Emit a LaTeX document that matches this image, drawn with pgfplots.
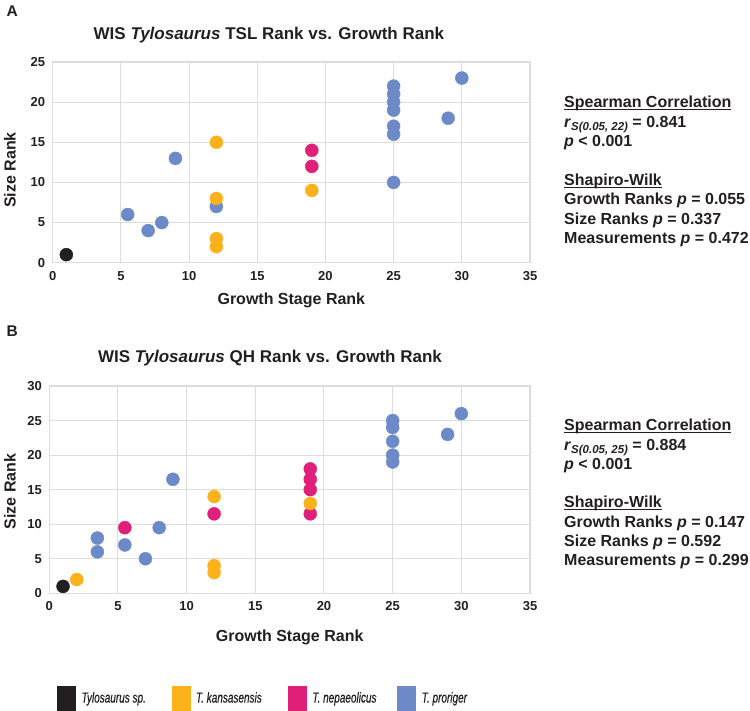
\documentclass[border=0pt]{standalone}
\usepackage{fontspec}
\setmainfont{Liberation Sans}
\newfontfamily\legfam{Liberation Sans}[FakeBold=0.6]
\usepackage{graphicx}
\usepackage{pgfplots}
\pgfplotsset{compat=1.18}
\definecolor{cblack}{HTML}{231F20}
\definecolor{corange}{HTML}{FDB21B}
\definecolor{cmag}{HTML}{E01F7B}
\definecolor{cblue}{HTML}{6D8AC8}
\definecolor{gridgray}{HTML}{DCDCDC}
\definecolor{txt}{HTML}{231F20}

\newcommand\legtext[1]{\scalebox{0.69}[1]{\fontsize{14.5bp}{15bp}\legfam\itshape #1}}
\newcommand\ul[1]{\setbox0\hbox{#1}\rlap{\rule[-2.6bp]{\wd0}{1.3bp}}\box0}
\newcommand\stat[2]{\node[anchor=base west, inner sep=0pt, font=\bfseries\fontsize{16bp}{16bp}\selectfont, text=txt] at (564bp,-#1bp) {#2};}
\newcommand\rsub[1]{\textit{r}\raisebox{-3bp}{\fontsize{11.5bp}{11.5bp}\selectfont\textit{#1}}}

\pgfplotsset{
  every axis title shift=0pt,
  panel/.style={
    scale only axis, xmin=0, xmax=35, xtick={0,5,...,35}, grid=major,
    major grid style={draw=gridgray, line width=1bp},
    axis line style={draw=gridgray, line width=1.2bp},
    major tick length=0pt,
    tick label style={font=\bfseries\fontsize{13bp}{13bp}\selectfont, text=txt},
    /pgf/number format/assume math mode=true,
    xticklabel style={yshift=-5bp},
    yticklabel style={xshift=-4bp},
    label style={font=\bfseries\fontsize{16bp}{16bp}\selectfont, text=txt, anchor=center},
    title style={font=\bfseries\fontsize{17bp}{17bp}\selectfont, text=txt, anchor=center},
    clip=false,
  },
  pt/.style={only marks, color=#1, mark=*, mark size=6.5bp, mark options={draw=#1, fill=#1, line width=0.4bp}, forget plot},
}

\begin{document}
\begin{tikzpicture}
\path[use as bounding box] (0,0) rectangle (750bp,-711bp);

% Panel A
\begin{axis}[panel, at={(52.7bp,-262.7bp)}, anchor=south west,
  width=477.3bp, height=200.7bp, ymin=0, ymax=25, ytick={0,5,...,25},
  title={WIS \textit{Tylosaurus} TSL Rank vs. Growth Rank},
  title style={at={(axis description cs:0.453,1.134)}},
  xlabel={Growth Stage Rank}, x label style={at={(axis description cs:0.5,-0.186)}},
  ylabel={Size Rank}, y label style={at={(axis description cs:-0.0895,0.462)}}]
\addplot[pt=cblue] coordinates {(5.5,6) (7,4) (8,5) (9,13) (12,7) (25,10) (25,16) (25,17) (25,19) (25,20) (25,21) (25,22) (29,18) (30,23)};
\addplot[pt=cmag] coordinates {(19,14) (19,12)};
\addplot[pt=cblack] coordinates {(1,1)};
\addplot[pt=corange] coordinates {(12,15) (12,8) (12,3) (12,2) (19,9)};
\end{axis}

% Panel B
\begin{axis}[panel, at={(49.3bp,-593.3bp)}, anchor=south west,
  width=480.7bp, height=207.3bp, ymin=0, ymax=30, ytick={0,5,...,30},
  title={WIS \textit{Tylosaurus} QH Rank vs. Growth Rank},
  title style={at={(axis description cs:0.459,1.135)}},
  xlabel={Growth Stage Rank}, x label style={at={(axis description cs:0.5,-0.211)}},
  ylabel={Size Rank}, y label style={at={(axis description cs:-0.082,0.491)}},
  legend columns=4,
  legend style={at={(axis description cs:0.016,-0.5075)}, anchor=west, draw=none, fill=none,
    inner sep=0pt, nodes={inner sep=0pt, text=txt}, column sep=0pt}]
\addplot[pt=cblue] coordinates {(3.5,8) (3.5,6) (5.5,7) (7,5) (8,9.5) (9,16.5) (25,25) (25,24) (25,22) (25,20) (25,19) (29,23) (30,26)};
\addplot[pt=cmag] coordinates {(5.5,9.5) (12,11.5) (19,18) (19,16.5) (19,15) (19,11.5)};
\addplot[pt=cblack] coordinates {(1,1)};
\addplot[pt=corange] coordinates {(2,2) (12,14) (12,4) (12,3) (19,13)};
\addlegendimage{legend image code/.code={\fill[cblack] (0bp,-13bp) rectangle (18bp,12bp);}}
\addlegendentry{\hspace{6bp}\makebox[90bp][l]{\legtext{Tylosaurus sp.}}}
\addlegendimage{legend image code/.code={\fill[corange] (0bp,-13bp) rectangle (18bp,12bp);}}
\addlegendentry{\hspace{6bp}\makebox[92bp][l]{\legtext{T. kansasensis}}}
\addlegendimage{legend image code/.code={\fill[cmag] (0bp,-13bp) rectangle (18bp,12bp);}}
\addlegendentry{\hspace{6bp}\makebox[85bp][l]{\legtext{T. nepaeolicus}}}
\addlegendimage{legend image code/.code={\fill[cblue] (0bp,-13bp) rectangle (18bp,12bp);}}
\addlegendentry{\hspace{6bp}\legtext{T. proriger}}
\end{axis}

% panel letters
\node[anchor=base west, inner sep=0pt, font=\bfseries\fontsize{15.5bp}{15.5bp}\selectfont, text=txt] at (6.5bp,-16.7bp) {A};
\node[anchor=base west, inner sep=0pt, font=\bfseries\fontsize{15.5bp}{15.5bp}\selectfont, text=txt] at (6.5bp,-336.7bp) {B};

% statistics A
\stat{107.5}{\ul{Spearman Correlation}}
\stat{127.5}{\rsub{S(0.05, 22)} = 0.841}
\stat{146.7}{\textit{p} < 0.001}
\stat{185.7}{\ul{Shapiro-Wilk}}
\stat{204.5}{Growth Ranks \textit{p} = 0.055}
\stat{224}{Size Ranks \textit{p} = 0.337}
\stat{243.3}{Measurements \textit{p} = 0.472}

% statistics B
\stat{430.7}{\ul{Spearman Correlation}}
\stat{450}{\rsub{S(0.05, 25)} = 0.884}
\stat{469.3}{\textit{p} < 0.001}
\stat{507.7}{\ul{Shapiro-Wilk}}
\stat{527.3}{Growth Ranks \textit{p} = 0.147}
\stat{546.7}{Size Ranks \textit{p} = 0.592}
\stat{565.7}{Measurements \textit{p} = 0.299}
\end{tikzpicture}
\end{document}
